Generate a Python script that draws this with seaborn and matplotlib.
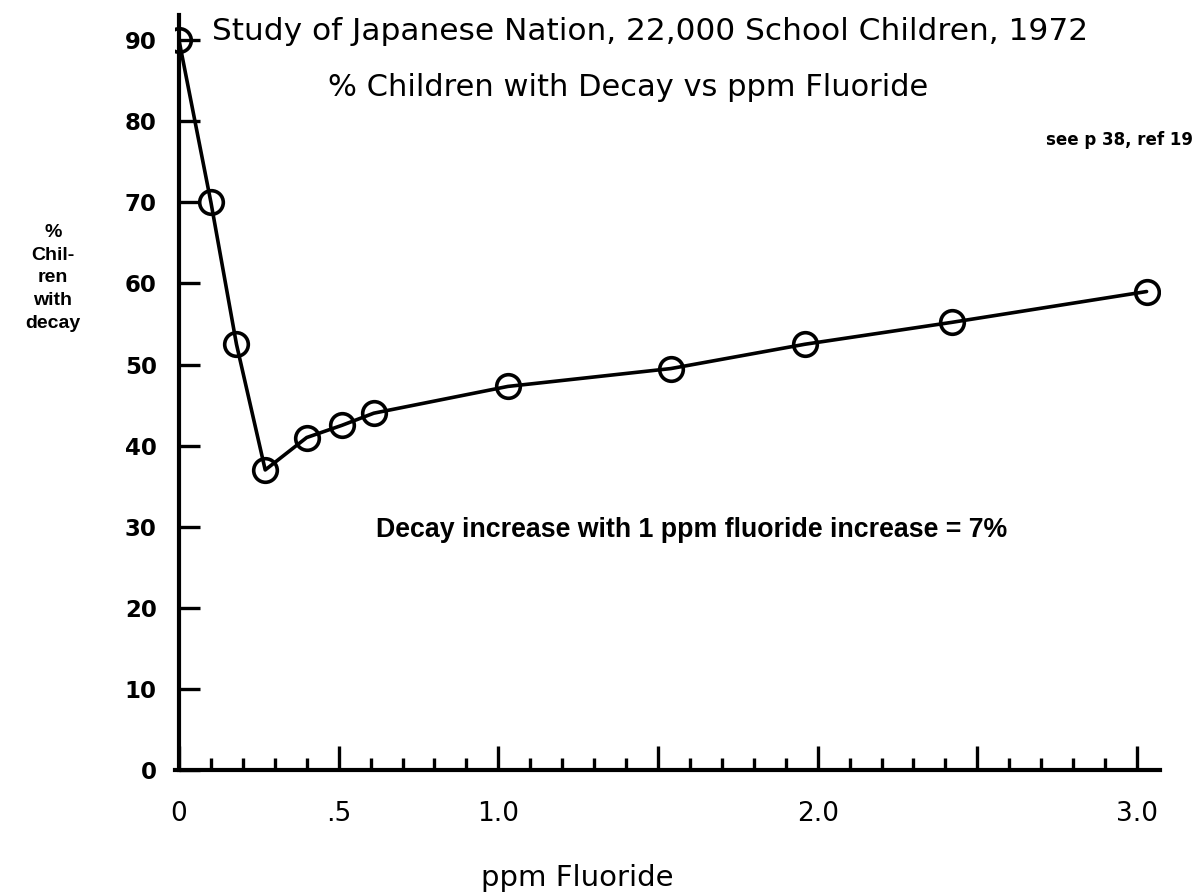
import numpy as np
import pandas as pd
import matplotlib
matplotlib.use("Agg")
import matplotlib.pyplot as plt
import seaborn as sns

# Data
ppm_fluoride = [0.0, 0.10, 0.18, 0.27, 0.40, 0.51, 0.61, 1.03, 1.54, 1.96, 2.42, 3.03]
pct_decay = [90, 70, 52.5, 37, 41, 42.5, 44, 47.3, 49.5, 52.5, 55.2, 59]

x_major = [0, 0.5, 1.0, 1.5, 2.0, 2.5, 3.0]
x_labels = ["0", ".5", "1.0", "", "2.0", "", "3.0"]
y_ticks = [0, 10, 20, 30, 40, 50, 60, 70, 80, 90]

df = pd.DataFrame({"ppm": ppm_fluoride, "decay": pct_decay})

sns.set_theme(style="ticks")
plt.rcParams["font.family"] = ["DejaVu Sans"]
plt.rcParams["text.color"] = "black"
plt.rcParams["xtick.color"] = "black"
plt.rcParams["ytick.color"] = "black"

W, H = 1198, 893
fig = plt.figure(figsize=(W / 100, H / 100), dpi=100)
ax = fig.add_axes([175 / W, 1 - 770 / H, (1160 - 175) / W, (770 - 15) / H])

sns.lineplot(data=df, x="ppm", y="decay", ax=ax, color="black", linewidth=2.6,
             marker="o", markersize=17, markerfacecolor="none",
             markeredgecolor="black", markeredgewidth=2.6)

ax.set_xlim(-0.0125, 3.072)
ax.set_ylim(0, 93.1)

for s in ["top", "right"]:
    ax.spines[s].set_visible(False)
ax.spines["left"].set_position(("data", 0))
ax.spines["bottom"].set_position(("data", 0))
for s in ["left", "bottom"]:
    ax.spines[s].set_linewidth(3)
    ax.spines[s].set_color("black")

ax.set_yticks(y_ticks)
ax.set_yticklabels([str(v) for v in y_ticks], fontsize=16.5, fontweight="bold")
ax.tick_params(axis="y", left=True, direction="in", length=15, width=2.4, pad=16,
               color="black", labelcolor="black")

ax.set_xticks(x_major)
ax.set_xticklabels(x_labels, fontsize=19)
ax.set_xticks(np.arange(0.1, 3.05, 0.1), minor=True)
ax.tick_params(axis="x", which="major", bottom=True, direction="in", length=17, width=2.4,
               pad=22, color="black", labelcolor="black")
ax.tick_params(axis="x", which="minor", bottom=True, direction="in", length=9, width=2.4,
               color="black")

ax.set_xlabel("")
ax.set_ylabel("")

fig.text(212 / W, 1 - 32 / H, "Study of Japanese Nation, 22,000 School Children, 1972",
         fontsize=22.5, ha="left", va="center")
fig.text(628 / W, 1 - 88 / H, "% Children with Decay vs ppm Fluoride",
         fontsize=22, ha="center", va="center")
fig.text(1193 / W, 1 - 140 / H, "see p 38, ref 19", fontsize=12, fontweight="bold",
         ha="right", va="center", family=["Liberation Sans Narrow", "DejaVu Sans"])
fig.text(53 / W, 1 - 278 / H, "%\nChil-\nren\nwith\ndecay", fontsize=14,
         fontweight="bold", ha="center", va="center", linespacing=1.45,
         family=["Liberation Sans", "DejaVu Sans"])
fig.text(376 / W, 1 - 530 / H, "Decay increase with 1 ppm fluoride increase = 7%",
         fontsize=19.3, fontweight="bold", ha="left", va="center",
         family=["Liberation Sans", "DejaVu Sans"])
fig.text(577 / W, 1 - 878 / H, "ppm Fluoride", fontsize=21, ha="center", va="center")

fig.savefig("out.png", dpi=100)
